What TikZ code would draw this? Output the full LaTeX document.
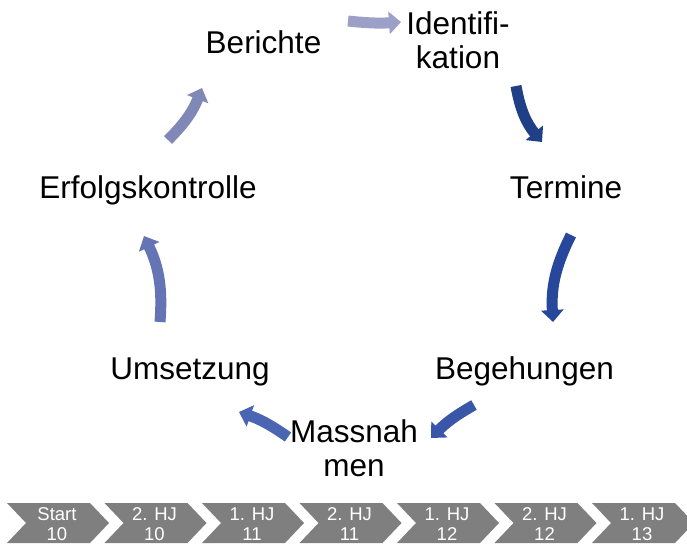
\documentclass[tikz,border=0pt]{standalone}
\usepackage{fontspec}
\setmainfont{Liberation Sans}
\usetikzlibrary{arrows.meta}
\definecolor{chevgray}{HTML}{7F7F7F}
\definecolor{ca}{HTML}{9CA0C8}
\definecolor{cb}{HTML}{1F3F86}
\definecolor{cc}{HTML}{27479A}
\definecolor{cd}{HTML}{3A56A8}
\definecolor{ce}{HTML}{4A66B2}
\definecolor{cf}{HTML}{6474B4}
\definecolor{cg}{HTML}{8088B8}
\begin{document}
\begin{tikzpicture}[x=1pt,y=-1pt,
  lbl/.style={font=\fontsize{31.5}{34}\selectfont, inner sep=0pt, align=center, anchor=base},
  cyc/.style={line width=11pt, -{Triangle[width=22pt,length=12pt]}},
  chev/.style={fill=chevgray, draw=none},
  chevtxt/.style={text=white, font=\fontsize{18.5}{19.5}\selectfont, align=center, inner sep=0pt, anchor=base}]
\useasboundingbox (0,0) rectangle (687,544);
% cycle labels (base = baseline of the last line)
\node[lbl] (ber) at (263.5,53) {Berichte};
\node[lbl] (ide) at (458,68) {Identifi-\\kation};
\node[lbl] (ter) at (566,198) {Termine};
\node[lbl] (beg) at (524.5,379) {Begehungen};
\node[lbl] (mas) at (354,476) {Massnah\\men};
\node[lbl] (ums) at (190,379) {Umsetzung};
\node[lbl] (erf) at (148,198) {Erfolgskontrolle};
% arrow ends
\coordinate (a1s) at (348,21);  \coordinate (a1e) at (401,22);
\coordinate (a2s) at (516,86);  \coordinate (a2e) at (542,142);
\coordinate (a3s) at (571,235); \coordinate (a3e) at (553,322);
\coordinate (a4s) at (474,405); \coordinate (a4e) at (431,438);
\coordinate (a5s) at (288,437); \coordinate (a5e) at (239,412);
\coordinate (a6s) at (160,322); \coordinate (a6e) at (144,236);
\coordinate (a7s) at (168,140); \coordinate (a7e) at (202,88);
\draw[cyc,ca] (a1s) to[bend right=5] (a1e);
\draw[cyc,cb] (a2s) to[bend right=15] (a2e);
\draw[cyc,cc] (a3s) to[bend right=15] (a3e);
\draw[cyc,cd] (a4s) to[bend right=8] (a4e);
\draw[cyc,ce] (a5s) to[bend right=8] (a5e);
\draw[cyc,cf] (a6s) to[bend right=15] (a6e);
\draw[cyc,cg] (a7s) to[bend right=12] (a7e);
% chevrons
\foreach \i/\a/\b in {0/Start/10,1/2. HJ/10,2/1. HJ/11,3/2. HJ/11,4/1. HJ/12,5/2. HJ/12,6/1. HJ/13}{
  \pgfmathsetmacro\xo{7+97.5*\i}
  \fill[chev] (\xo,503) -- ++(83,0) -- ++(19,20) -- ++(-19,20) -- ++(-83,0) -- ++(19,-20) -- cycle;
  \node[chevtxt] (ct\i) at (\xo+50,540) {\a\\\b};
}
\end{tikzpicture}
\end{document}
